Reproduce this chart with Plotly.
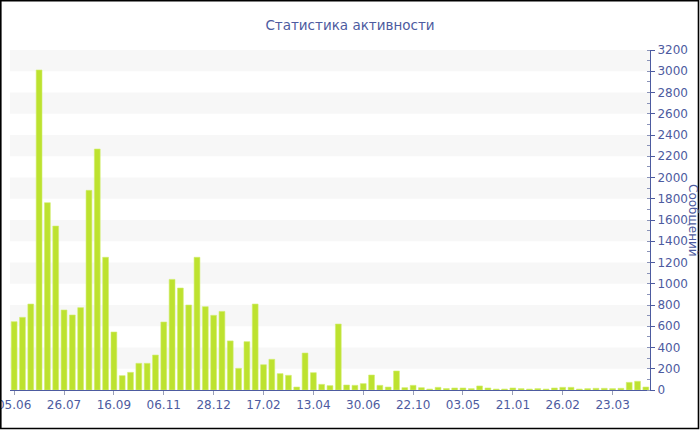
import plotly.graph_objects as go

title_text = "Статистика активности"
y_title = "Сообщений"

values = [643, 684, 809, 3012, 1763, 1543, 753, 706, 775, 1879,
          2268, 1249, 546, 135, 166, 251, 251, 329, 640, 1041,
          960, 800, 1249, 784, 703, 740, 462, 204, 455, 809,
          238, 289, 154, 138, 28, 348, 163, 53, 41, 621,
          47, 44, 60, 141, 44, 28, 179, 22, 44, 22,
          9, 25, 14, 19, 19, 13, 38, 19, 9, 9,
          19, 13, 9, 13, 9, 19, 25, 25, 9, 13,
          16, 16, 13, 16, 72, 82, 28]
positions = list(range(len(values)))

tick_positions = [0, 6, 12, 18, 24, 30, 36, 42, 48, 54, 60, 66, 72]
tick_labels = ["05.06", "26.07", "16.09", "06.11", "28.12", "17.02", "13.04",
               "30.06", "22.10", "03.05", "21.01", "26.02", "23.03"]

band_starts = [200, 600, 1000, 1400, 1800, 2200, 2600, 3000]
band_height = 200

AX = "#4d5ba0"
FONT = "DejaVu Sans"

fig = go.Figure()
fig.add_trace(go.Bar(
    x=positions, y=values,
    marker=dict(color="#bde22f", line=dict(color="#d2ee6e", width=0.6)),
    showlegend=False,
))

shapes = []
for b in band_starts:
    shapes.append(dict(type="rect", xref="paper", yref="y", x0=0, x1=1,
                       y0=b, y1=b + band_height, fillcolor="#f7f7f7",
                       line=dict(width=0), layer="below"))
# outer black frame
L, R, T, B = 10, 650, 50, 390
def px2x(p):
    return (p - L) / (R - L)
def py2y(p):
    return (B - p) / (B - T)
shapes.append(dict(type="rect", xref="paper", yref="paper",
                   x0=px2x(0.8), x1=px2x(698.5), y0=py2y(428.5), y1=py2y(0.8),
                   line=dict(color="black", width=1.6), fillcolor="rgba(0,0,0,0)",
                   layer="above"))

fig.update_layout(
    width=700, height=430,
    margin=dict(l=L, r=700 - R, t=T, b=430 - B, autoexpand=False),
    paper_bgcolor="white", plot_bgcolor="white",
    bargap=0.3,
    font=dict(family=FONT, color=AX, size=12),
    title=dict(text=title_text, x=0.5, xanchor="center", xref="container",
               y=1 - 25 / 430, yref="container", yanchor="middle",
               font=dict(family=FONT, size=13.5, color=AX)),
    shapes=shapes,
    annotations=[dict(text=y_title, xref="paper", yref="paper",
                      x=px2x(693), y=0.5, xanchor="center", yanchor="middle",
                      textangle=90, showarrow=False,
                      font=dict(family=FONT, size=12, color=AX))],
    xaxis=dict(
        range=[-0.5, len(values) - 0.5],
        tickmode="array", tickvals=tick_positions, ticktext=tick_labels,
        ticks="outside", ticklen=4, tickcolor="#9aa0b8",
        showline=True, linecolor=AX, linewidth=1,
        showgrid=False, zeroline=False, automargin=False,
        ticklabeloverflow="allow",
        tickfont=dict(family=FONT, size=12, color=AX),
    ),
    yaxis=dict(
        side="right", range=[0, 3200], dtick=200, tick0=0,
        ticks="outside", ticklen=4, tickcolor=AX,
        showline=True, linecolor=AX, linewidth=1,
        showgrid=False, zeroline=False, automargin=False,
        ticklabeloverflow="allow",
        minor=dict(dtick=100, ticks="inside", ticklen=3, tickcolor="#8a93b8", showgrid=False),
        tickfont=dict(family=FONT, size=12, color=AX),
    ),
)

fig.write_html("out.html", config={"displayModeBar": False},
               post_script="document.body.style.margin='0';document.body.style.overflow='hidden';")
